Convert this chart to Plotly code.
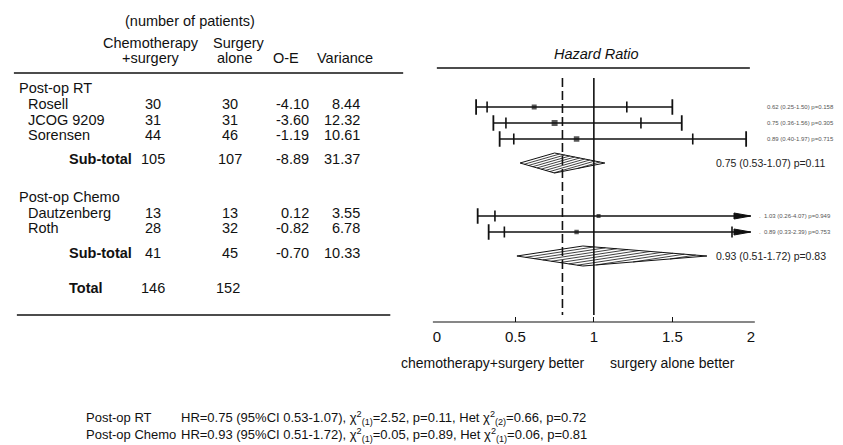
import math
import plotly.graph_objects as go

W, H = 843, 445
FONT = "Liberation Sans, Arial, Helvetica, sans-serif"
INK = "#111111"

# ---------------- data ----------------
rt_names = ["Rosell", "JCOG 9209", "Sorensen"]
rt_n_chemo = [30, 31, 44]
rt_n_surg = [30, 31, 46]
rt_oe = [-4.10, -3.60, -1.19]
rt_var = [8.44, 12.32, 10.61]
rt_hr = [0.62, 0.75, 0.89]
rt_lo = [0.25, 0.36, 0.40]
rt_hi = [1.50, 1.56, 1.97]
rt_lo95 = [0.32, 0.44, 0.49]
rt_hi95 = [1.21, 1.30, 1.63]
rt_p = ["0.158", "0.305", "0.715"]

ch_names = ["Dautzenberg", "Roth"]
ch_n_chemo = [13, 28]
ch_n_surg = [13, 32]
ch_oe = [0.12, -0.82]
ch_var = [3.55, 6.78]
ch_hr = [1.03, 0.89]
ch_lo = [0.26, 0.33]
ch_hi = [4.07, 2.39]
ch_lo95 = [0.37, 0.43]
ch_hi95 = [None, 1.88]
ch_p = ["0.949", "0.753"]

group_names = ["Post-op RT", "Post-op Chemo"]
sub_n_chemo = [105, 41]
sub_n_surg = [107, 45]
sub_oe = [-8.89, -0.70]
sub_var = [31.37, 10.33]
sub_hr = [0.75, 0.93]
sub_lo = [0.53, 0.51]
sub_hi = [1.07, 1.72]
sub_p = ["0.11", "0.83"]

total_n_chemo = 146
total_n_surg = 152
overall_hr = 0.80

fx_chi = ["2.52", "0.05"]
fx_df = [1, 1]
fx_p = ["0.11", "0.89"]
het_chi = ["0.66", "0.06"]
het_df = [2, 1]
het_p = ["0.72", "0.81"]

tick_vals = [0, 0.5, 1, 1.5, 2]
tick_text = ["0", "0.5", "1", "1.5", "2"]
XMIN, XMAX = 0, 2

# ---------------- layout constants (pixels) ----------------
X0_PX, X1_PX = 437, 754
PX_PER_UNIT = (X1_PX - X0_PX) / (XMAX - XMIN)
AXIS_Y = 322
mark_rows = [[107, 123, 139], [216, 232]]
sub_mark_rows = [163, 256]
text_rows = [[104, 120, 135], [213, 228]]
group_rows = [88, 197]
sub_text_rows = [159, 253]
total_row = 288
DIAMOND_H = 10
TFS = 14.5  # table font size

fig = go.Figure()
ann = []
shapes = []


def txt(xp, yp, s, anchor="left", size=TFS, color=INK):
    ann.append(dict(x=xp / W, y=yp, xref="paper", yref="y", text=s, showarrow=False,
                    xanchor=anchor, yanchor="middle", align=anchor,
                    font=dict(size=size, family=FONT, color=color)))


def hline(x0p, x1p, yp, width=1.5):
    shapes.append(dict(type="line", xref="paper", yref="y", x0=x0p / W, x1=x1p / W,
                       y0=yp, y1=yp, line=dict(color=INK, width=width)))


# ---------------- table header ----------------
txt(188, 21, "(number of patients)", "center")
txt(148, 43, "Chemotherapy", "center")
txt(148, 58, "+surgery", "center")
txt(237, 43, "Surgery", "center")
txt(233, 58, "alone", "center")
txt(285, 58, "O-E", "center")
txt(344, 58, "Variance", "center")
hline(10, 403, 73, 1.6)
hline(13, 390, 315, 1.6)

# right header
txt(598, 54, "<i>Hazard Ratio</i>", "center", 14.5)
hline(437, 753, 68, 1.6)

# ---------------- table body ----------------
groups = [
    (rt_names, rt_n_chemo, rt_n_surg, rt_oe, rt_var),
    (ch_names, ch_n_chemo, ch_n_surg, ch_oe, ch_var),
]
for g, (names, nc, ns, oe, var) in enumerate(groups):
    txt(13, group_rows[g], group_names[g])
    for i, nm in enumerate(names):
        y = text_rows[g][i]
        txt(22, y, nm)
        txt(150, y, str(nc[i]), "center")
        txt(228, y, str(ns[i]), "center")
        txt(310, y, f"{oe[i]:.2f}", "right")
        txt(361, y, f"{var[i]:.2f}", "right")
    y = sub_text_rows[g]
    txt(64, y, "<b>Sub-total</b>")
    txt(150, y, str(sub_n_chemo[g]), "center")
    txt(228, y, str(sub_n_surg[g]), "center")
    txt(310, y, f"{sub_oe[g]:.2f}", "right")
    txt(361, y, f"{sub_var[g]:.2f}", "right")
txt(64, total_row, "<b>Total</b>")
txt(150, total_row, str(total_n_chemo), "center")
txt(226, total_row, str(total_n_surg), "center")

# ---------------- forest plot ----------------
study_sets = [
    (rt_hr, rt_lo, rt_hi, rt_lo95, rt_hi95, rt_var, rt_p),
    (ch_hr, ch_lo, ch_hi, ch_lo95, ch_hi95, ch_var, ch_p),
]
line_x, line_y = [], []
outer_x, outer_y = [], []
inner_x, inner_y = [], []
sq_x, sq_y, sq_s = [], [], []
ARROW_L = 17 / PX_PER_UNIT
for g, (hr, lo, hi, lo95, hi95, var, pv) in enumerate(study_sets):
    for i in range(len(hr)):
        y = mark_rows[g][i]
        line_x += [lo[i], min(hi[i], XMAX), None]
        line_y += [y, y, None]
        outer_x.append(lo[i]); outer_y.append(y)
        if hi[i] <= XMAX:
            outer_x.append(hi[i]); outer_y.append(y)
        else:
            fig.add_trace(go.Scatter(
                x=[XMAX - ARROW_L, XMAX, XMAX - ARROW_L, XMAX - ARROW_L],
                y=[y - 3, y, y + 3, y - 3], mode="lines", fill="toself",
                fillcolor=INK, line=dict(color=INK, width=1), hoverinfo="skip"))
        for v in (lo95[i], hi95[i]):
            if v is not None and v <= XMAX:
                inner_x.append(v); inner_y.append(y)
        sq_x.append(hr[i]); sq_y.append(y); sq_s.append(max(4, 1.7 * math.sqrt(var[i])))
        label = f"{hr[i]:.2f} ({lo[i]:.2f}-{hi[i]:.2f}) p={pv[i]}"
        if hi[i] > XMAX:
            label = ".&nbsp;&nbsp;" + label
            txt(760, y, label, "left", 6, "#555")
        else:
            txt(768, y, label, "left", 6, "#555")

fig.add_trace(go.Scatter(x=line_x, y=line_y, mode="lines",
                         line=dict(color=INK, width=1.7), hoverinfo="skip"))
fig.add_trace(go.Scatter(x=outer_x, y=outer_y, mode="markers",
                         marker=dict(symbol="line-ns", size=11, line=dict(color=INK, width=1.8)),
                         hoverinfo="skip"))
fig.add_trace(go.Scatter(x=inner_x, y=inner_y, mode="markers",
                         marker=dict(symbol="line-ns", size=8, line=dict(color=INK, width=1.6)),
                         hoverinfo="skip"))
fig.add_trace(go.Scatter(x=sq_x, y=sq_y, mode="markers",
                         marker=dict(symbol="square", size=sq_s, color=INK, line=dict(width=0)),
                         hoverinfo="skip"))

# diamonds with hatching
for g in range(2):
    yc = sub_mark_rows[g]
    lo, hr, hi = sub_lo[g], sub_hr[g], sub_hi[g]
    vx = [lo, hr, hi, hr, lo]
    vy = [yc, yc - DIAMOND_H, yc, yc + DIAMOND_H, yc]
    fig.add_trace(go.Scatter(x=vx, y=vy, mode="lines", fill="toself", fillcolor="white",
                             line=dict(color=INK, width=1), hoverinfo="skip"))
    # hatch lines parallel to the upper-left edge (work in pixel-like units)
    P = [((x - XMIN) * PX_PER_UNIT, yy) for x, yy in zip(vx[:-1], vy[:-1])]
    dx, dy = P[1][0] - P[0][0], P[1][1] - P[0][1]
    norm = math.hypot(dx, dy)
    f = [(dx * (p[1] - P[0][1]) - dy * (p[0] - P[0][0])) / norm for p in P]
    fmin, fmax = min(f), max(f)
    n = max(1, int((fmax - fmin) / 2.6))
    hx, hy = [], []
    for k in range(1, n + 1):
        lev = fmin + (fmax - fmin) * k / (n + 1)
        pts = []
        for j in range(4):
            a, b = j, (j + 1) % 4
            fa, fb = f[a], f[b]
            if (fa - lev) * (fb - lev) < 0:
                t = (lev - fa) / (fb - fa)
                px = P[a][0] + t * (P[b][0] - P[a][0])
                py = P[a][1] + t * (P[b][1] - P[a][1])
                pts.append((px / PX_PER_UNIT + XMIN, py))
        if len(pts) >= 2:
            hx += [pts[0][0], pts[1][0], None]
            hy += [pts[0][1], pts[1][1], None]
    fig.add_trace(go.Scatter(x=hx, y=hy, mode="lines", line=dict(color=INK, width=0.8),
                             hoverinfo="skip"))
    txt(717, yc, f"{hr:.2f} ({lo:.2f}-{hi:.2f}) p={sub_p[g]}", "left", 10.5, "#222")

# reference lines
shapes.append(dict(type="line", xref="x", yref="y", x0=1, x1=1, y0=78, y1=315,
                   line=dict(color=INK, width=1.6)))
shapes.append(dict(type="line", xref="x", yref="y", x0=overall_hr, x1=overall_hr, y0=78, y1=315,
                   line=dict(color=INK, width=1.6, dash="9px,4px")))
# axis line
hline(433, 758, AXIS_Y, 1.2)

txt(589, 363, "chemotherapy+surgery better", "right", 14)
txt(610, 363, "surgery alone better", "left", 14)

# footer (one block per column so lines do not overlap)
stats = []
for g in range(2):
    stats.append(f"HR={sub_hr[g]:.2f} (95%CI {sub_lo[g]:.2f}-{sub_hi[g]:.2f}), "
                 f"χ<sup>2</sup><sub>({fx_df[g]})</sub>={fx_chi[g]}, p={fx_p[g]}, "
                 f"Het χ<sup>2</sup><sub>({het_df[g]})</sub>={het_chi[g]}, p={het_p[g]}")
txt(81, 426, "<br>".join(group_names), "left", 13)
txt(177, 426, "<br>".join(stats), "left", 13)

fig.update_layout(
    width=W, height=H, margin=dict(l=0, r=0, t=0, b=0),
    paper_bgcolor="white", plot_bgcolor="white", showlegend=False,
    xaxis=dict(domain=[X0_PX / W, X1_PX / W], range=[XMIN, XMAX], tickvals=tick_vals,
               ticktext=tick_text, ticks="inside", ticklen=5, tickwidth=1.2, tickcolor=INK,
               showline=False, showgrid=False, zeroline=False, anchor="free",
               position=1 - AXIS_Y / H, tickfont=dict(size=15, family=FONT, color=INK),
               ticklabelstandoff=4, fixedrange=True),
    yaxis=dict(domain=[0, 1], range=[H, 0], visible=False, fixedrange=True),
    annotations=ann, shapes=shapes,
    font=dict(family=FONT, color=INK),
)
fig.write_html("out.html")
